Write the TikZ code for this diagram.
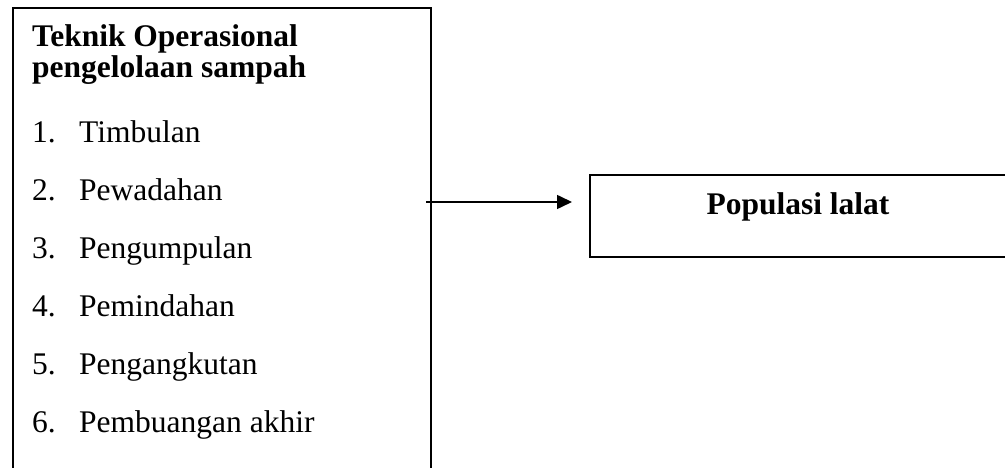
\documentclass[tikz,border=0pt]{standalone}
\usepackage{fontspec}
\setmainfont{Liberation Serif}
\usetikzlibrary{positioning}
\usetikzlibrary{arrows.meta}

\begin{document}
\begin{tikzpicture}[x=1pt,y=1pt,
	every node/.style={inner sep=0pt, font=\fontsize{31.5}{31.5}\selectfont},
	kotak/.style={draw, line width=1.6pt},
	teks/.style={anchor=base west},
	tebal/.style={font=\fontsize{31.5}{31.5}\selectfont\bfseries}]
			% page size, the left box runs past the bottom
			\clip (0,0) rectangle (1005,468);

			% left box with its title
			\node[kotak, anchor=north west, minimum width=418pt, minimum height=500pt] (t0) at (12,461) {};
			\node[teks, tebal] (j1) at (32,421) {Teknik Operasional};
			\node[teks, tebal] (j2) at (32,390) {pengelolaan sampah};

			% the six items
			\foreach \i/\isi in {1/Timbulan,2/Pewadahan,3/Pengumpulan,4/Pemindahan,5/Pengangkutan,6/Pembuangan akhir}
				{\node[teks] (n\i) at (32,{383-58*\i}) {\i.};
				 \node[teks] (t\i) at (79,{383-58*\i}) {\isi};}

			% right box
			\node[kotak, anchor=north west, minimum width=450pt, minimum height=82pt] (p0) at (589,294) {};
			\node[tebal, anchor=base] (p1) at (798,253) {Populasi lalat};

			\coordinate (a0) at (426,266);
			\draw[kotak, -{Triangle[length=15pt,width=14pt]}, shorten >=17pt] (a0) -- (a0 -| p0.west);
		\end{tikzpicture}
\end{document}
